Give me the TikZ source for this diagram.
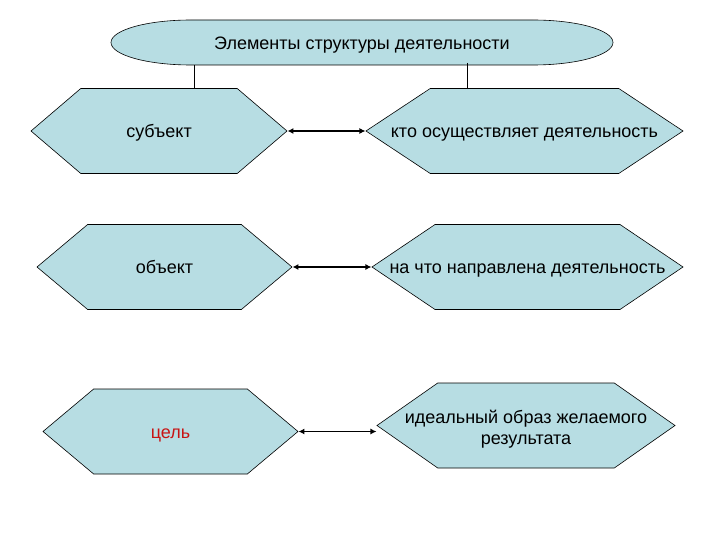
\documentclass[tikz,border=0pt]{standalone}
\usepackage{fontspec}
\setmainfont{Liberation Sans}
\usetikzlibrary{positioning, arrows.meta, shapes.symbols}
\definecolor{hexfill}{RGB}{183,221,227}
\definecolor{goalred}{RGB}{200,20,20}

\begin{document}
\begin{tikzpicture}[
  x=1pt, y=-1pt,
  font=\fontsize{18}{21}\selectfont,
  hexa/.style={draw, fill=hexfill, shape=signal, signal to=west and east,
               inner sep=0pt, minimum height=85pt, line width=0.6pt},
  oneline/.style={text height=13pt, text depth=0pt},
  pair/.style={{Latex[length=6pt,width=6pt]}-{Latex[length=6pt,width=6pt]},
               line width=1.5pt},
  link/.style={line width=0.6pt},
]
\useasboundingbox (0,0) rectangle (720,540);

% Title
\draw[fill=hexfill, line width=0.6pt] (191,20) -- (533,20)
   arc[start angle=90, end angle=-90, x radius=80pt, y radius=22.5pt]
   -- (191,65)
   arc[start angle=270, end angle=90, x radius=80pt, y radius=22.5pt] -- cycle;
\node[oneline] (title) at (362,43) {Элементы структуры деятельности};

% Elements and their meaning
\node[hexa, oneline, signal pointer angle=81, minimum width=256pt] (subj) at (159,131)
  {\makebox[0pt]{субъект}};
\node[hexa, oneline, signal pointer angle=67, minimum width=317pt] (subjd) at (524.5,131)
  {\makebox[0pt]{кто осуществляет деятельность}};
\node[hexa, oneline, signal pointer angle=80, minimum width=255pt] (obj) at (164.5,267)
  {\makebox[0pt]{объект}};
\node[hexa, oneline, signal pointer angle=68, minimum width=311pt] (objd) at (527.5,267)
  {\makebox[0pt]{на что направлена деятельность}};
\node[hexa, oneline, signal pointer angle=80, minimum width=255pt, text=goalred] (goal)
  at (170.5,431.5) {\makebox[0pt]{цель}};
\node[hexa, signal pointer angle=70, minimum width=298pt] (goald) at (526,425.5)
  {\makebox[0pt]{\raisebox{-4pt}[\height][\depth]{\begin{tabular}{@{}c@{}}идеальный образ желаемого\\результата\end{tabular}}}};

% Links from title
\coordinate (tl) at (194,65);
\coordinate (tr) at (467,63);
\draw[link] (tl) -- (tl |- subj.north);
\draw[link] (tr) -- (tr |- subjd.north);

% Arrows
\draw[pair] (subj.east) -- (subjd.west);
\draw[pair] (obj.east) -- (objd.west);
\draw[pair] (goal.east) -- (goal.east -| goald.west);
\end{tikzpicture}
\end{document}
